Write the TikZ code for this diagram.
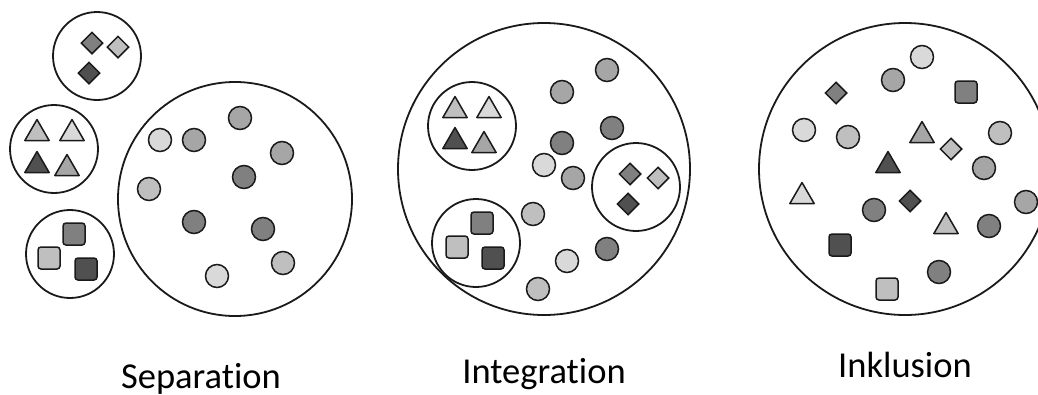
\documentclass[tikz,border=0pt]{standalone}
\usepackage{fontspec}
\setmainfont{Carlito}[Ligatures={NoCommon}]
\usetikzlibrary{shapes.geometric}
\definecolor{ga}{HTML}{D9D9D9}
\definecolor{gb}{HTML}{BFBFBF}
\definecolor{gc}{HTML}{A6A6A6}
\definecolor{gd}{HTML}{808080}
\definecolor{ge}{HTML}{505050}
\definecolor{edge}{HTML}{1A1A1A}
\begin{document}
\begin{tikzpicture}[x=1pt,y=-1pt,
  ring/.style={circle,draw=edge,line width=1.8pt,inner sep=0pt,minimum size=#1},
  dot/.style={circle,draw=edge,line width=1.5pt,fill=#1,inner sep=0pt,minimum size=23pt},
  dia/.style={diamond,draw=edge,line width=1.5pt,fill=#1,inner sep=0pt,minimum size=22pt},
  sq/.style={rectangle,rounded corners=3pt,draw=edge,line width=1.5pt,fill=#1,inner sep=0pt,minimum size=22pt},
  tri/.style={regular polygon,regular polygon sides=3,draw=edge,line width=1.5pt,line join=round,fill=#1,inner sep=0pt,minimum size=28pt,yshift=-3.5pt},
  lbl/.style={font=\fontsize{36.5}{40}\selectfont,anchor=base,inner sep=0pt}]
\useasboundingbox (0,0) rectangle (1038,394);
\clip (0,0) rectangle (1038,394);
% ---------- Separation ----------
\node[ring=234pt] (s-big) at (235,199) {};
\node[ring=88pt] (s-dg) at (97,56) {};
\node[ring=88pt] (s-tg) at (54,149) {};
\node[ring=88pt] (s-qg) at (70,254) {};
\node[dia=gd] (s-d1) at (92,43) {};
\node[dia=gb] (s-d2) at (118,47) {};
\node[dia=ge] (s-d3) at (89,73) {};
\node[tri=gb] (s-t1) at (37,130) {};
\node[tri=ga] (s-t2) at (72,130) {};
\node[tri=ge] (s-t3) at (37,162) {};
\node[tri=gc] (s-t4) at (67,165) {};
\node[sq=gd] (s-q1) at (74,234) {};
\node[sq=gb] (s-q2) at (49,258) {};
\node[sq=ge] (s-q3) at (86,269) {};
\node[dot=ga] (s-c1) at (160,140) {};
\node[dot=gc] (s-c2) at (194,140) {};
\node[dot=gc] (s-c3) at (240,118) {};
\node[dot=gc] (s-c4) at (282,153) {};
\node[dot=gd] (s-c5) at (244,177) {};
\node[dot=gb] (s-c6) at (149,189) {};
\node[dot=gd] (s-c7) at (194,222) {};
\node[dot=gd] (s-c8) at (263,229) {};
\node[dot=gb] (s-c9) at (283,263) {};
\node[dot=ga] (s-c10) at (217,276) {};
\node[lbl] (s-label) at (201,388) {Separation};
% ---------- Integration ----------
\node[ring=292pt] (i-big) at (544,169) {};
\node[ring=88pt] (i-tg) at (472,126) {};
\node[ring=88pt] (i-qg) at (476,243) {};
\node[ring=88pt] (i-dg) at (636,187) {};
\node[tri=gb] (i-t1) at (455,107) {};
\node[tri=ga] (i-t2) at (489,107) {};
\node[tri=ge] (i-t3) at (455,138) {};
\node[tri=gc] (i-t4) at (484,142) {};
\node[sq=gd] (i-q1) at (482,223) {};
\node[sq=gb] (i-q2) at (457,247) {};
\node[sq=ge] (i-q3) at (493,258) {};
\node[dia=gd] (i-d1) at (630,174) {};
\node[dia=gb] (i-d2) at (658,178) {};
\node[dia=ge] (i-d3) at (628,204) {};
\node[dot=gc] (i-c1) at (607,70) {};
\node[dot=gc] (i-c2) at (562,92) {};
\node[dot=gd] (i-c3) at (612,128) {};
\node[dot=gd] (i-c4) at (562,143) {};
\node[dot=ga] (i-c5) at (544,165) {};
\node[dot=gc] (i-c6) at (573,178) {};
\node[dot=gb] (i-c7) at (533,214) {};
\node[dot=gd] (i-c8) at (607,249) {};
\node[dot=ga] (i-c9) at (567,261) {};
\node[dot=gb] (i-c10) at (538,289) {};
\node[lbl] (i-label) at (544,383) {Integration};
% ---------- Inklusion ----------
\node[ring=292pt] (k-big) at (905,169) {};
\node[dia=gd] (k-d1) at (836,93) {};
\node[dia=gb] (k-d2) at (951,149) {};
\node[dia=ge] (k-d3) at (910,201) {};
\node[sq=gd] (k-q1) at (966,92) {};
\node[sq=ge] (k-q2) at (840,245) {};
\node[sq=gb] (k-q3) at (887,289) {};
\node[tri=gc] (k-t1) at (922,132) {};
\node[tri=ge] (k-t2) at (888,162) {};
\node[tri=ga] (k-t3) at (802,193) {};
\node[tri=gb] (k-t4) at (946,223) {};
\node[dot=ga] (k-c1) at (922,57) {};
\node[dot=gc] (k-c2) at (893,80) {};
\node[dot=ga] (k-c3) at (804,130) {};
\node[dot=gb] (k-c4) at (848,137) {};
\node[dot=gb] (k-c5) at (1000,133) {};
\node[dot=gc] (k-c6) at (984,168) {};
\node[dot=gc] (k-c7) at (1026,202) {};
\node[dot=gd] (k-c8) at (874,210) {};
\node[dot=gd] (k-c9) at (989,226) {};
\node[dot=gd] (k-c10) at (939,272) {};
\node[lbl] (k-label) at (905,377) {Inklusion};
\end{tikzpicture}
\end{document}
